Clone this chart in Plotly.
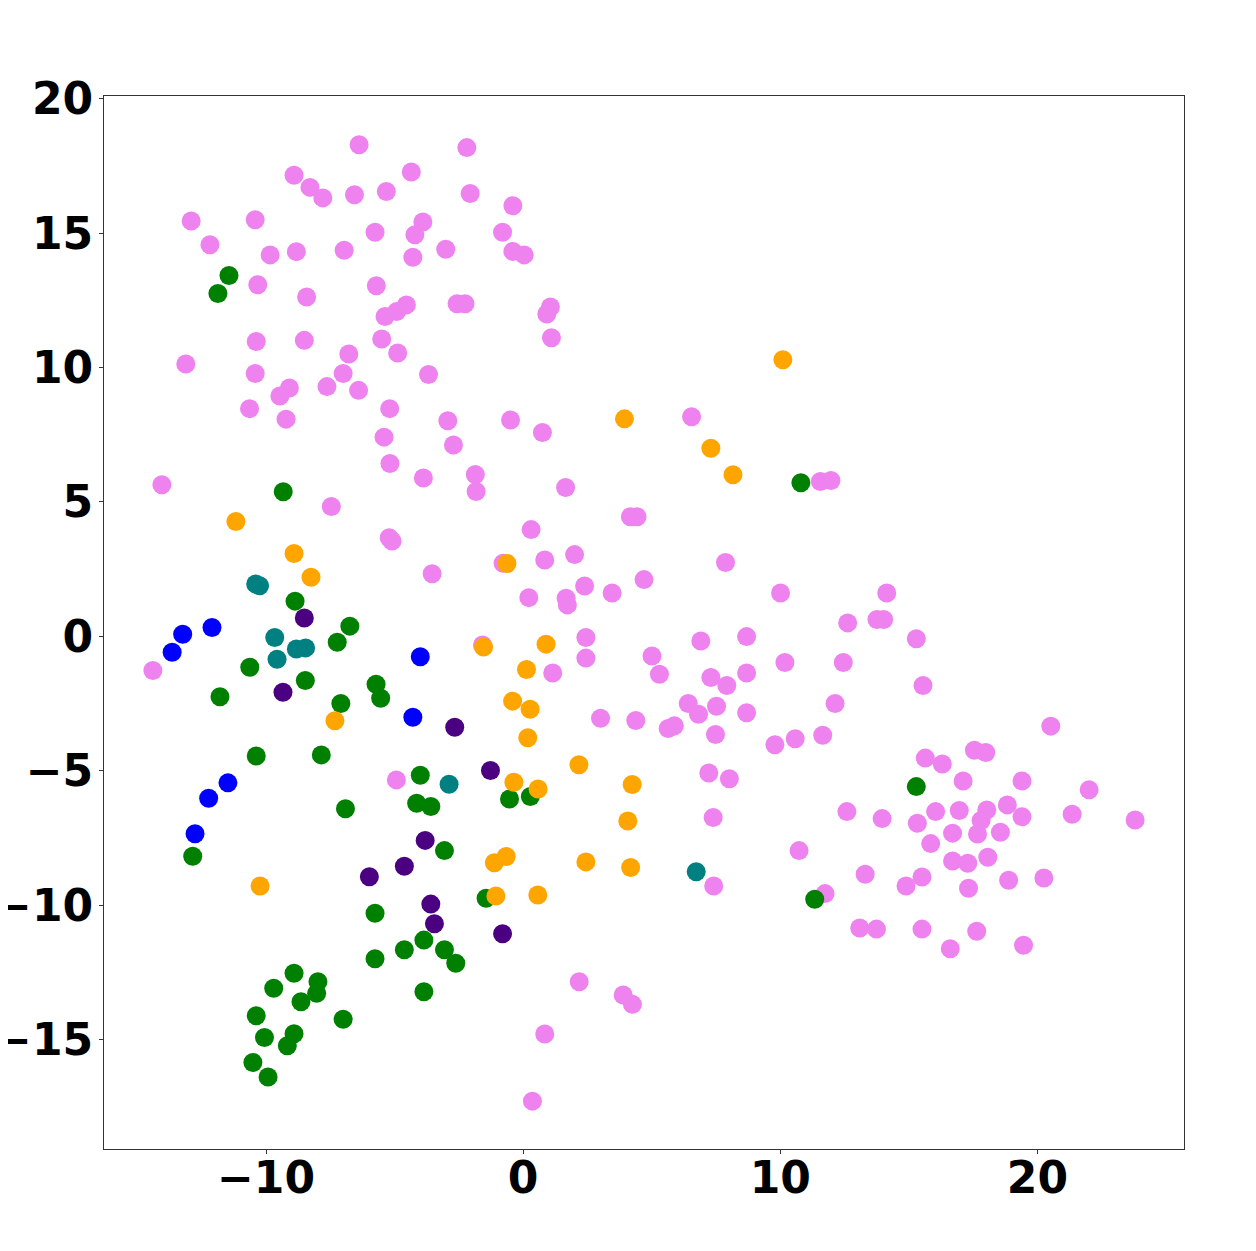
import plotly.graph_objects as go

# point coordinates, one group per colour
violet_x = [-6.38, -2.19, -8.91, -8.29, -7.79, -6.56, -5.32, -4.35, -2.06, -12.91, -10.42, -12.18, -9.84, -8.82,
            -6.96, -5.76, -3.90, -4.21, -4.29, -3.01, -10.32, -8.42, -5.71, -4.54, -4.92, -5.37, -2.57, -2.26,
            -10.38, -8.51, -5.50, -4.88, -6.78, -13.12, -10.42, -3.68, -7.00, -7.63, -6.40, -9.09, -9.46, -10.64,
            -9.22, -5.19, -2.93, -5.41, -2.71, -5.18,
            -0.40, -0.80, -0.40, 0.04, 1.06, 0.92, 1.10, -0.49, 0.75, 6.55,
            -14.05, -3.88, -1.86, -1.83, -7.46, -5.21, -5.10, -3.54, -14.40, -4.93,
            11.56, 11.97, 1.65, 4.17, 4.43, 0.31, -0.78, 0.84, 2.00, 7.87, 4.70, 0.22, 1.67, 1.72, 2.39, 3.46,
            10.01, 12.62, -1.58, 2.44, 2.44, 5.01, 5.30, 6.91, 8.69, 10.18, 1.15, 7.30, 7.92, 8.69, 6.42, 6.82,
            7.52, 8.69, 12.13, 3.01, 4.38, 5.64, 5.88, 7.48, 9.79, 10.58, 11.65, 7.22, 8.02, 7.39,
            12.59, 7.41, 10.73, 11.74, 2.18, 3.89, 4.25, 0.84, 0.36,
            14.14, 13.76, 14.02, 15.29, 12.45, 15.55, 20.52, 15.64, 16.30, 17.55, 17.99, 17.11, 19.40, 22.01,
            13.96, 15.33, 16.04, 16.96, 18.03, 18.83, 19.40, 17.81, 21.35, 23.80, 16.70, 17.67, 18.56, 15.85,
            16.70, 17.29, 18.07, 13.30, 14.89, 15.51, 17.32, 18.88, 20.25, 13.09, 13.74, 15.51, 17.64, 16.61,
            19.46]
violet_y = [18.29, 18.18, 17.15, 16.70, 16.31, 16.43, 16.55, 17.27, 16.47, 15.45, 15.50, 14.57, 14.19, 14.31,
            14.36, 15.03, 15.41, 14.94, 14.10, 14.40, 13.08, 12.62, 13.04, 12.33, 12.08, 11.90, 12.37, 12.37,
            10.97, 11.01, 11.06, 10.54, 10.50, 10.13, 9.78, 9.74, 9.78, 9.29, 9.15, 9.24, 8.94, 8.47,
            8.08, 8.47, 8.02, 7.41, 7.12, 6.43,
            16.02, 15.03, 14.32, 14.19, 12.25, 11.99, 11.11, 8.05, 7.58, 8.17,
            5.64, 5.89, 6.02, 5.39, 4.83, 3.67, 3.55, 2.33, -1.27, -5.34,
            5.76, 5.80, 5.54, 4.45, 4.45, 3.97, 2.72, 2.84, 3.04, 2.75, 2.11, 1.44, 1.42, 1.17, 1.87, 1.61,
            1.61, 0.50, -0.32, -0.04, -0.81, -0.73, -1.41, -0.17, -0.01, -0.97, -1.36, -1.53, -1.83, -1.36, -2.50, -2.90,
            -2.60, -2.84, -2.50, -3.05, -3.13, -3.43, -3.33, -3.65, -4.03, -3.81, -3.68, -5.08, -5.30, -6.74,
            -6.52, -9.29, -7.97, -9.57, -12.85, -13.34, -13.69, -14.79, -17.29,
            1.61, 0.63, 0.63, -0.09, -0.97, -1.83, -3.34, -4.53, -4.75, -4.24, -4.32, -5.38, -5.38, -5.71,
            -6.78, -6.95, -6.52, -6.48, -6.46, -6.27, -6.71, -6.85, -6.62, -6.83, -7.32, -7.35, -7.29, -7.71,
            -8.36, -8.44, -8.22, -8.85, -9.29, -8.95, -9.37, -9.07, -8.99, -10.85, -10.89, -10.89, -10.97, -11.62,
            -11.49]

green_x = [-11.44, -11.87, -9.33, -8.87, -6.74, -7.23, -10.63, -8.47, -11.79, -5.72, -5.54, -7.09, -10.38, -7.85,
           -4.00, -12.85, -6.91, -4.14, -3.59, -3.06, -5.76, -3.86, -4.62, -3.06, -2.62, -5.76, -3.86, -8.91,
           -9.70, -7.98, -8.03, -8.64, -10.38, -7.00, -10.06, -8.91, -9.17, -10.51, -9.92, 10.80, -0.53, 0.28,
           11.34, -1.44, 15.29]
green_y = [13.42, 12.75, 5.38, 1.31, 0.38, -0.22, -1.15, -1.64, -2.25, -1.78, -2.30, -2.50, -4.45, -4.41,
           -5.17, -8.18, -6.41, -6.21, -6.33, -7.97, -10.30, -11.30, -11.66, -11.66, -12.16, -11.99, -13.22, -12.53,
           -13.09, -12.85, -13.28, -13.59, -14.11, -14.24, -14.92, -14.78, -15.23, -15.85, -16.39, 5.71, -6.05, -5.96,
           -9.78, -9.74, -5.59]

blue_x = [-13.24, -12.10, -13.65, -4.00, -4.29, -11.48, -12.23, -12.76]
blue_y = [0.08, 0.33, -0.59, -0.76, -3.01, -5.45, -6.02, -7.34]

teal_x = [-10.40, -10.25, -9.66, -8.82, -8.46, -9.57, -2.88, 6.73]
teal_y = [1.95, 1.88, -0.04, -0.47, -0.43, -0.85, -5.50, -8.76]

indigo_x = [-8.51, -9.34, -2.66, -1.27, -3.81, -4.62, -5.98, -3.59, -3.45, -0.80]
indigo_y = [0.68, -2.08, -3.38, -4.99, -7.59, -8.55, -8.94, -9.96, -10.69, -11.06]

orange_x = [10.10, 3.94, 7.30, 8.16, -11.17, -8.91, -8.25, -0.63, -1.54, 0.89, 0.13, -0.41, 0.27, 0.18,
            -7.32, 2.17, 4.24, -0.36, 0.58, 4.07, -0.66, -1.12, 2.44, 4.18, -1.06, 0.57, -10.23]
orange_y = [10.29, 8.09, 7.00, 6.01, 4.27, 3.08, 2.20, 2.71, -0.40, -0.29, -1.23, -2.41, -2.71, -3.77,
            -3.14, -4.78, -5.51, -5.43, -5.68, -6.87, -8.19, -8.42, -8.39, -8.60, -9.66, -9.62, -9.29]

groups = [
    (violet_x, violet_y, "violet"),
    (green_x, green_y, "green"),
    (blue_x, blue_y, "blue"),
    (teal_x, teal_y, "teal"),
    (indigo_x, indigo_y, "indigo"),
    (orange_x, orange_y, "orange"),
]

fig = go.Figure()
for xs, ys, col in groups:
    fig.add_trace(go.Scatter(x=xs, y=ys, mode="markers",
                             marker=dict(color=col, size=19, line=dict(width=0)),
                             showlegend=False))

axis_style = dict(
    showgrid=False, zeroline=False,
    showline=True, linecolor="#333333", linewidth=1, mirror=True,
    ticks="outside", ticklen=4, tickcolor="#333333",
    automargin=False,
    tickfont=dict(family="DejaVu Sans", size=44, color="black", weight="bold"),
)

# the page puts an 8px body margin around the figure, so margins are trimmed by it
fig.update_layout(
    width=1256, height=1251,
    margin=dict(l=96, r=80, t=88, b=110),
    paper_bgcolor="white", plot_bgcolor="white",
    xaxis=dict(range=[-16.3, 25.7], tickvals=[-10, 0, 10, 20], ticklabelstandoff=-14, **axis_style),
    yaxis=dict(range=[-19.07, 20.1], tickvals=[-15, -10, -5, 0, 5, 10, 15, 20], ticklabelstandoff=-3,
               **axis_style),
)

fig.write_html("out.html")
